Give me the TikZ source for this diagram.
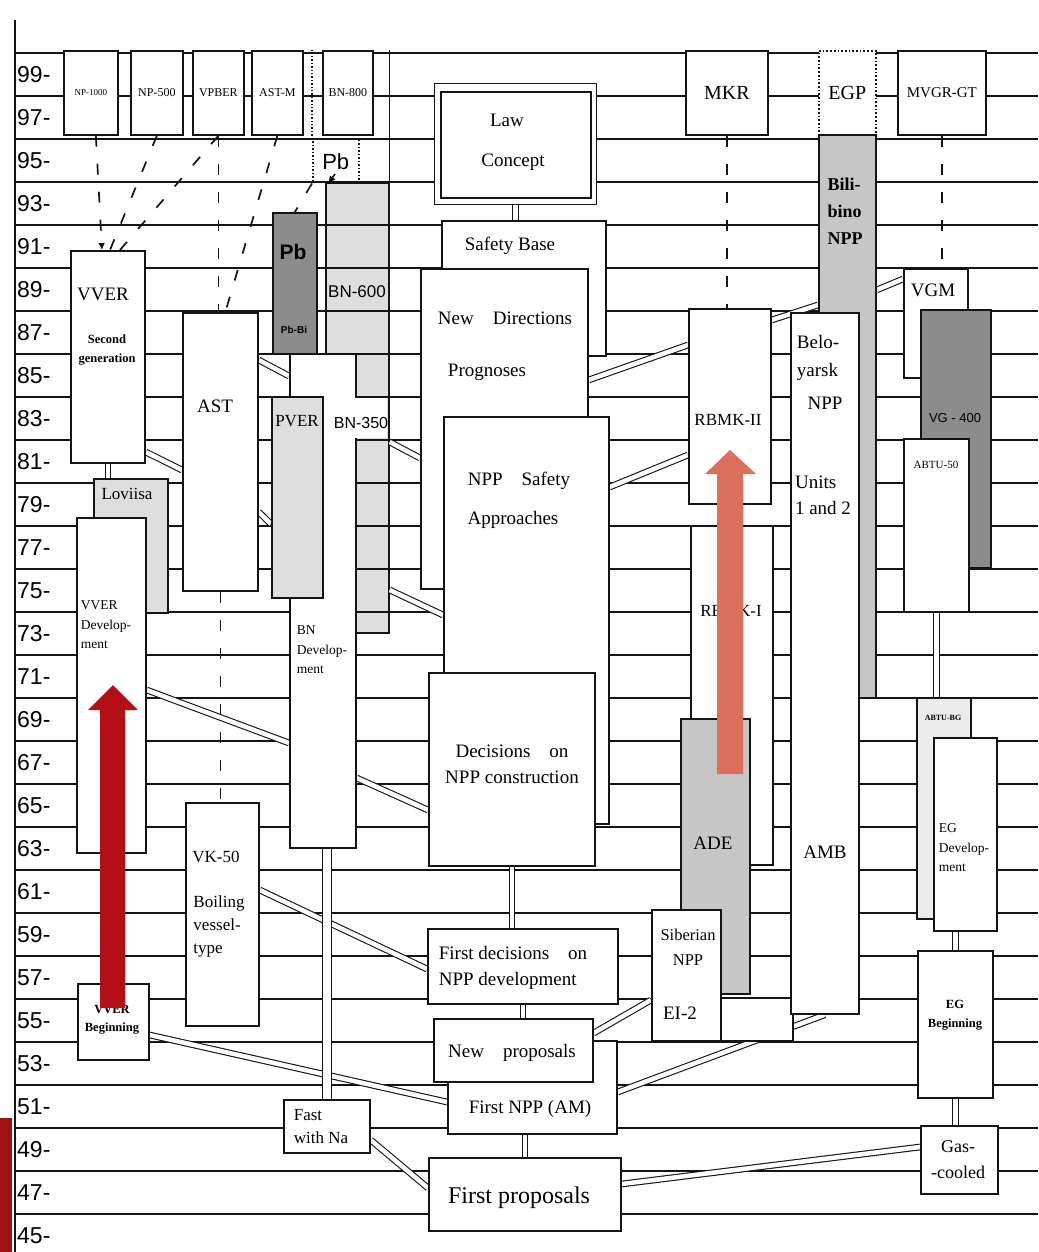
\documentclass[tikz,border=0pt]{standalone}
\usepackage{fontspec}
\setmainfont{Liberation Serif}
\setsansfont{Liberation Sans}
\usetikzlibrary{arrows.meta,calc}
\definecolor{ink}{HTML}{141414}
\definecolor{stiplight}{HTML}{DEDEDE}
\definecolor{stipmid}{HTML}{C6C6C6}
\definecolor{stipdark}{HTML}{8C8C8C}
\definecolor{darkred}{HTML}{B40F16}
\definecolor{salmon}{HTML}{DC6F5B}
\definecolor{barred}{HTML}{9C1117}
\pgfdeclarelayer{back}
\pgfdeclarelayer{mid}
\pgfsetlayers{back,mid,main}
\tikzset{
  every picture/.style={font=\rmfamily},
  gridline/.style={draw=ink,line width=1.4pt},
  box/.style={draw=ink,fill=white,line width=1.7pt,inner sep=0pt,anchor=north west},
  wh/.style 2 args={minimum width=#1pt,minimum height=#2pt},
  lightbox/.style={box,fill=stiplight},
  midbox/.style={box,fill=stipmid},
  darkbox/.style={box,fill=stipdark},
  pipe/.style={draw=ink,line width=1.1pt,double=white,double distance=4.5pt},
  dashline/.style={draw=ink,line width=1.7pt,dash pattern=on 11pt off 17pt},
  yearlab/.style={font=\sffamily\fontsize{23}{25}\selectfont,anchor=west,inner sep=0pt},
  biglabel/.style={font=\fontsize{19}{26}\selectfont,inner sep=0pt,align=center},
  midlabel/.style={font=\fontsize{17}{23}\selectfont,inner sep=0pt,align=center},
  smalllabel/.style={font=\fontsize{13.5}{19.5}\selectfont,inner sep=0pt,align=center},
  boldlabel/.style={font=\bfseries\fontsize{12.5}{18.5}\selectfont,inner sep=0pt,align=center},
  sanslabel/.style={font=\sffamily\fontsize{16}{18}\selectfont,inner sep=0pt},
}

\begin{document}
\begin{tikzpicture}[x=1pt,y=-1pt]
  \useasboundingbox (0,0) rectangle (1038,1252);

  % header row: projects of the late nineties
  \node[box,wh={54}{84},font=\fontsize{9}{10}\selectfont] (np1000) at (63,50) {NP-1000};
  \node[box,wh={52}{84},font=\fontsize{12}{13}\selectfont] (np500) at (130,50) {NP-500};
  \node[box,wh={51}{84},font=\fontsize{12}{13}\selectfont] (vpber) at (192,50) {VPBER};
  \node[box,wh={51}{84},font=\fontsize{12}{13}\selectfont] (astm) at (251,50) {AST-M};
  \node[box,wh={50}{84},font=\fontsize{12}{13}\selectfont] (bn800) at (322,50) {BN-800};
  \node[box,wh={82}{84},font=\fontsize{20}{22}\selectfont] (mkr) at (685,50) {MKR};
  \node[box,dotted,wh={57}{84},font=\fontsize{20}{22}\selectfont] (egp) at (818,50) {EGP};
  \node[box,wh={88}{84},font=\fontsize{15}{16}\selectfont] (mvgr) at (897,50) {MVGR-GT};

  % VVER, AST and BN lines on the left
  \node[box,wh={74}{212}] (vverii) at (70,250) {};
  \node[lightbox,wh={74}{134}] (loviisa) at (93,478) {};
  \node[box,wh={69}{335}] (vverdev) at (76,517) {};
  \node[box,wh={71}{76}] (vverbeg) at (77,983) {};
  \node[box,wh={75}{278}] (ast) at (182,312) {};
  \node[box,wh={73}{223}] (vk50) at (185,802) {};
  \node[darkbox,wh={44}{141}] (pbbox) at (272,212) {};
  \node[box,wh={66}{494}] (bndev) at (289,353) {};
  \fill[white] (353.5,398) rectangle (387,438);
  \node[lightbox,wh={51}{201}] (pver) at (271,396) {};
  \node[draw=ink,dotted,line width=1.5pt,inner sep=0pt,anchor=north west,wh={46}{43},
    font=\sffamily\fontsize{22}{24}\selectfont] (pbtop) at (312,139) {Pb};
  \node[box,wh={86}{53}] (fastna) at (283,1099) {};

  % safety documents in the middle column
  \node[box,line width=1pt,wh={162}{121}] (lawouter) at (434,83) {};
  \node[box,wh={150}{106}] (lawinner) at (440,91) {};
  \node[box,wh={164}{135}] (safety) at (441,220) {};
  \node[box,wh={167}{320}] (newdir) at (420,268) {};
  \node[box,wh={165}{407}] (nppsafety) at (443,416) {};
  \node[box,wh={166}{193}] (decisions) at (428,672) {};
  \node[box,wh={190}{75}] (firstdec) at (427,928) {};
  \node[box,wh={169}{93}] (firstnpp) at (447,1040) {};
  \node[box,wh={159}{63}] (newprop) at (433,1018) {};
  \node[box,wh={192}{73}] (firstprop) at (428,1157) {};

  % RBMK, AMB and gas-cooled lines on the right
  \node[box,wh={82}{195}] (rbmkii) at (688,308) {};
  \node[box,wh={82}{339}] (rbmki) at (690,525) {};
  \node[midbox,wh={69}{275}] (ade) at (680,718) {};
  \node[box,wh={69}{131}] (siberian) at (651,909) {};
  \node[box,wh={72}{43}] (emptybox) at (720,997) {};
  \node[midbox,wh={57}{563}] (bilibino) at (818,134) {};
  \node[box,wh={68}{701}] (beloyarsk) at (790,312) {};
  \node[box,wh={64}{109}] (vgm) at (903,268) {};
  \node[darkbox,wh={70}{258}] (vg400) at (920,309) {};
  \node[box,wh={65}{173}] (abtu50) at (903,438) {};
  \node[lightbox,fill=black!8,wh={54}{221}] (abtubg) at (916,697) {};
  \node[box,wh={63}{193}] (egdev) at (933,737) {};
  \node[box,wh={75}{147}] (egbeg) at (917,950) {};
  \node[box,wh={77}{68}] (gascooled) at (920,1125) {};

  % labels
  \foreach \yr [count=\k from 0] in {99,97,...,45}
    \node[yearlab] (yr\yr) at (17,{74.5+43*\k}) {\yr-};
  \node[biglabel] (t-vver) at (103,294) {VVER};
  \node[boldlabel] (t-second) at (107,350) {Second\\generation};
  \node[midlabel] (t-loviisa) at (127,494) {Loviisa};
  \node[smalllabel,align=left] (t-vverdev) at (106,625) {VVER\\Develop-\\ment};
  \node[boldlabel] (t-vverbeg) at (112,1020) {VVER\\Beginning};
  \node[biglabel] (t-ast) at (215,406) {AST};
  \node[midlabel] (t-vk50) at (216,857) {VK-50};
  \node[midlabel,align=left] (t-boiling) at (219,926) {Boiling\\vessel-\\type};
  \node[sanslabel,font=\sffamily\bfseries\fontsize{21}{23}\selectfont] (t-pb) at (293,252) {Pb};
  \node[sanslabel,font=\sffamily\bfseries\fontsize{10}{11}\selectfont] (t-pbbi) at (294,330) {Pb-Bi};
  \node[sanslabel,font=\sffamily\fontsize{17}{19}\selectfont] (t-bn600) at (357,292) {BN-600};
  \node[midlabel] (t-pver) at (297,421) {PVER};
  \node[sanslabel,font=\sffamily\fontsize{16}{18}\selectfont] (t-bn350) at (361,423) {BN-350};
  \node[smalllabel,align=left] (t-bndev) at (322,650) {BN\\Develop-\\ment};
  \node[midlabel,align=left,font=\fontsize{17}{23}\selectfont] (t-fastna) at (321,1127) {Fast\\with Na};
  \node[biglabel] (t-law) at (507,120) {Law};
  \node[biglabel] (t-concept) at (513,162) {Concept};
  \node[biglabel] (t-safety) at (510,246) {Safety Base};
  \node[biglabel] (t-newdir) at (505,318) {New\quad Directions};
  \node[biglabel] (t-prognoses) at (487,372) {Prognoses};
  \node[biglabel] (t-nppsafety) at (519,481) {NPP\quad Safety};
  \node[biglabel] (t-approaches) at (513,520) {Approaches};
  \node[biglabel] (t-decisions) at (512,764) {Decisions\quad on\\NPP construction};
  \node[biglabel,align=left] (t-firstdec) at (513,968) {First decisions\quad on\\NPP development};
  \node[biglabel] (t-newprop) at (512,1053) {New\quad proposals};
  \node[biglabel] (t-firstnpp) at (530,1109) {First NPP (AM)};
  \node[biglabel,font=\fontsize{24}{26}\selectfont] (t-firstprop) at (519,1198) {First proposals};
  \node[midlabel] (t-rbmkii) at (728,420) {RBMK-II};
  \node[midlabel] (t-rbmki) at (731,611) {RBMK-I};
  \node[biglabel] (t-ade) at (713,843) {ADE};
  \node[midlabel,font=\fontsize{16.5}{25}\selectfont] (t-siberian) at (688,947) {Siberian\\NPP};
  \node[biglabel] (t-ei2) at (680,1013) {EI-2};
  \node[biglabel,align=left,font=\bfseries\fontsize{18}{27}\selectfont] (t-bilibino) at (845,211) {Bili-\\bino\\NPP};
  \node[biglabel,align=left,font=\fontsize{19}{28}\selectfont] (t-belo) at (818,358) {Belo-\\yarsk};
  \node[biglabel] (t-belonpp) at (825,403) {NPP};
  \node[biglabel,align=left] (t-units) at (823,495) {Units\\1 and 2};
  \node[biglabel] (t-amb) at (825,852) {AMB};
  \node[biglabel] (t-vgm) at (933,290) {VGM};
  \node[sanslabel,font=\sffamily\fontsize{13}{14}\selectfont] (t-vg400) at (955,418) {VG - 400};
  \node[smalllabel,font=\fontsize{11}{12}\selectfont] (t-abtu50) at (936,465) {ABTU-50};
  \node[smalllabel,font=\bfseries\fontsize{8}{9}\selectfont] (t-abtubg) at (943,718) {ABTU-BG};
  \node[smalllabel,align=left] (t-egdev) at (964,848) {EG\\Develop-\\ment};
  \node[boldlabel] (t-egbeg) at (955,1015) {EG\\Beginning};
  \node[midlabel,font=\fontsize{18}{26}\selectfont] (t-gas) at (958,1160) {Gas-\\-cooled};

  % grid of years behind everything
  \begin{pgfonlayer}{back}
    \fill[white] (0,0) rectangle (1038,1252);
    \node[lightbox,wh={63}{450}] (bncol) at (325,182) {};
    \fill[white] (353.5,398) rectangle (387,438);
    \foreach \k in {0,...,27}
      \draw[gridline] (15,{53+43*\k}) -- (1038,{53+43*\k});
    \draw[gridline] (15,20) -- (15,1252);
  \end{pgfonlayer}

  % pipes and dashed links between the boxes
  \begin{pgfonlayer}{mid}
    \draw[gridline] (bncol.north east) -- (bncol.north east |- bn800.north);
    \draw[gridline,dotted,line width=1.5pt] (pbtop.north west) -- (pbtop.north west |- bn800.north);
    \draw[dashline,-{Latex[length=7pt,width=7pt]}] ($(np1000.south)+(5,0)$) -- ($(vverii.north west)+(32,0)$);
    \draw[dashline] (np500.south) -- ($(vverii.north west)+(40,0)$);
    \draw[dashline] (vpber.south) -- ($(vverii.north west)+(50,0)$);
    \draw[dashline] (vpber.south) -- (vpber.south |- ast.north);
    \draw[dashline] (astm.south) -- ($(ast.north)+(5,0)$);
    \draw[dashline] (ast.south) -- (ast.south |- vk50.north);
    \draw[dashline] (pbtop.south west) -- (pbbox.north);
    \draw[line width=1.4pt,-{Latex[length=8pt,width=7pt]}] ($(bncol.north west)+(10,-8)$) -- ($(bncol.north west)+(3,2)$);
    \draw[dashline] (mkr.south) -- (mkr.south |- rbmkii.north);
    \draw[dashline] (mvgr.south) -- (mvgr.south |- vgm.north);

    \draw[pipe] (vverii.south) -- (vverii.south |- loviisa.north);
    \draw[pipe] (vverii.east |- 0,452) -- (ast.west |- 0,470);
    \draw[pipe] (ast.east |- 0,360) -- (bndev.west |- 0,376);
    \draw[pipe] (ast.east |- 0,512) -- (pver.west |- 0,524);
    \draw[pipe] (bncol.east |- 0,442) -- (newdir.west |- 0,458);
    \draw[pipe] (bncol.east |- 0,590) -- (nppsafety.west |- 0,615);
    \draw[pipe] (vverdev.east |- 0,690) -- (bndev.west |- 0,743);
    \draw[pipe] (bndev.east |- 0,778) -- (decisions.west |- 0,810);
    \draw[pipe] (vk50.east |- 0,890) -- (firstdec.west |- 0,969);
    \draw[pipe] (vverbeg.east |- 0,1035) -- (firstnpp.west |- 0,1102);
    \draw[pipe,double distance=8pt] (fastna.north |- bndev.south) -- (fastna.north);
    \draw[pipe] (fastna.east |- 0,1140) -- (firstprop.west |- 0,1188);
    \draw[pipe] (lawouter.south) -- (lawouter.south |- safety.north);
    \draw[pipe] (decisions.south) -- (decisions.south |- firstdec.north);
    \draw[pipe] (firstdec.south) -- (firstdec.south |- newprop.north);
    \draw[pipe] (firstprop.north |- firstnpp.south) -- (firstprop.north);
    \draw[pipe] (newdir.east |- 0,380) -- (rbmkii.west |- 0,345);
    \draw[pipe] (nppsafety.east |- 0,487) -- (rbmkii.west |- 0,455);
    \draw[pipe] (rbmkii.east |- 0,320) -- (bilibino.west |- 0,305);
    \draw[pipe] (bilibino.east |- 0,290) -- (vgm.west |- 0,279);
    \draw[pipe] (newprop.east |- 0,1033) -- (siberian.west |- 0,1000);
    \draw[pipe] (firstnpp.east |- 0,1092) -- (beloyarsk.south);
    \draw[pipe] (firstprop.east |- 0,1184) -- (gascooled.west |- 0,1147);
    \draw[pipe] (abtu50.south) -- (abtu50.south |- abtubg.north);
    \draw[pipe] (egbeg.north |- egdev.south) -- (egbeg.north);
    \draw[pipe] (egbeg.south) -- (egbeg.south |- gascooled.north);
  \end{pgfonlayer}

  % overlay arrows and the bar at the lower left
  \fill[barred] (0,1118) rectangle (12,1252);
  \fill[darkred] (100,1008) -- (100,710) -- (88,710) -- (113,685) -- (138,710) -- (125,710) -- (125,1008) -- cycle;
  \fill[salmon] (717,774) -- (717,474) -- (705,474) -- (730,450) -- (756,474) -- (743,474) -- (743,774) -- cycle;
\end{tikzpicture}
\end{document}
